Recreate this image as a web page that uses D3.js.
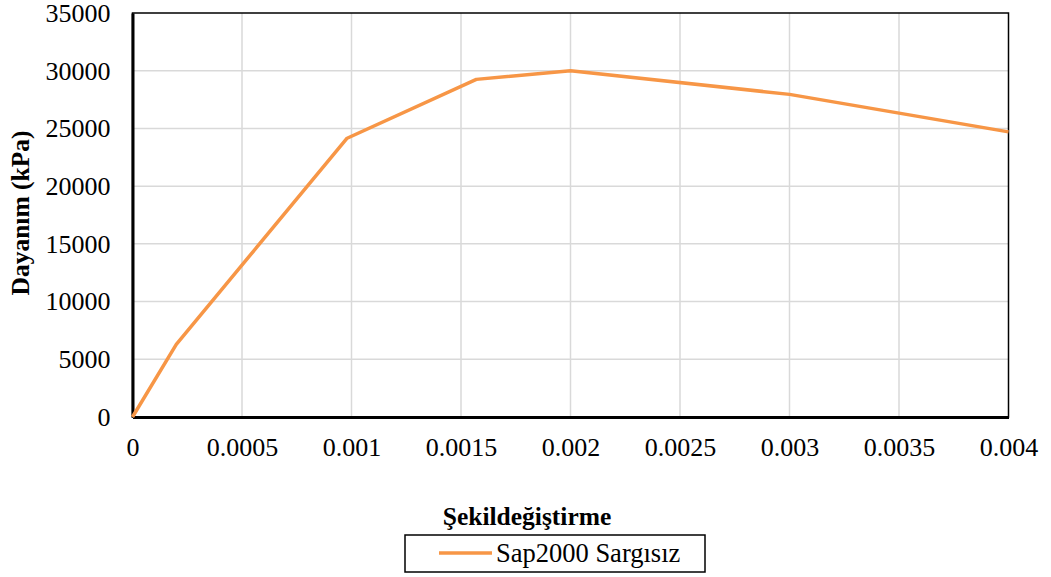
<!DOCTYPE html>
<html>
<head>
<meta charset="utf-8">
<script src="https://cdn.jsdelivr.net/npm/d3@7"></script>
<style>
  html, body { margin: 0; padding: 0; background: #fff; }
  svg { display: block; }
  svg text { font-family: "Liberation Serif", "Times New Roman", "DejaVu Serif", serif; }
</style>
</head>
<body>
<svg id="chart" width="1051" height="577"></svg>
<script>
// Stress–strain curve (Sap2000, unconfined)
const strain = [0, 0.0002, 0.00098, 0.00157, 0.002, 0.003, 0.004];
const stress = [0, 6300, 24150, 29250, 30000, 27950, 24700];
const xTicks = [0, 0.0005, 0.001, 0.0015, 0.002, 0.0025, 0.003, 0.0035, 0.004];
const yTicks = [0, 5000, 10000, 15000, 20000, 25000, 30000, 35000];
const seriesName = "Sap2000 Sargısız";
const xTitle = "Şekildeğiştirme";
const yTitle = "Dayanım (kPa)";

const svg = d3.select("#chart");
const margin = { left: 132.5, right: 1008.5, top: 13, bottom: 417 };

const x = d3.scaleLinear().domain([0, 0.004]).range([margin.left, margin.right]);
const y = d3.scaleLinear().domain([0, 35000]).range([margin.bottom, margin.top]);

// grid
const grid = svg.append("g").attr("stroke", "#d9d9d9").attr("stroke-width", 1.5);
grid.selectAll("line.v").data(xTicks.slice(1, -1)).join("line")
  .attr("x1", d => x(d)).attr("x2", d => x(d))
  .attr("y1", margin.top).attr("y2", margin.bottom);
grid.selectAll("line.h").data(yTicks.slice(1, -1)).join("line")
  .attr("x1", margin.left).attr("x2", margin.right)
  .attr("y1", d => y(d)).attr("y2", d => y(d));

// plot frame
svg.append("rect")
  .attr("x", margin.left).attr("y", margin.top)
  .attr("width", margin.right - margin.left).attr("height", margin.bottom - margin.top)
  .attr("fill", "none").attr("stroke", "#000").attr("stroke-width", 1.5);

// axes
const xAxis = d3.axisBottom(x).tickValues(xTicks).tickSize(0).tickPadding(21)
  .tickFormat(d => String(+d.toFixed(4)));
const gx = svg.append("g").attr("transform", `translate(0,${margin.bottom})`).call(xAxis)
  .attr("font-family", null);
gx.select(".domain").attr("stroke", "#000").attr("stroke-width", 3);
gx.selectAll("text").attr("font-size", 26).attr("fill", "#000");

const yAxis = d3.axisLeft(y).tickValues(yTicks).tickSize(0).tickPadding(22)
  .tickFormat(d => String(d));
const gy = svg.append("g").attr("transform", `translate(${margin.left},0)`).call(yAxis)
  .attr("font-family", null);
gy.select(".domain").attr("stroke", "#000").attr("stroke-width", 3);
gy.selectAll("text").attr("font-size", 26).attr("fill", "#000");

// series line
const data = strain.map((s, i) => ({ s, v: stress[i] }));
svg.append("path")
  .datum(data)
  .attr("fill", "none")
  .attr("stroke", "#F79646")
  .attr("stroke-width", 3.5)
  .attr("stroke-linejoin", "round")
  .attr("d", d3.line().x(d => x(d.s)).y(d => y(d.v)));

// axis titles
svg.append("text")
  .attr("x", 527).attr("y", 525)
  .attr("text-anchor", "middle")
  .attr("font-weight", "bold").attr("font-size", 25.5)
  .text(xTitle);

svg.append("text")
  .attr("transform", "translate(29,213) rotate(-90)")
  .attr("text-anchor", "middle")
  .attr("font-weight", "bold").attr("font-size", 25.5)
  .text(yTitle);

// legend
const lg = svg.append("g");
lg.append("rect")
  .attr("x", 405).attr("y", 535).attr("width", 300).attr("height", 37)
  .attr("fill", "#fff").attr("stroke", "#000").attr("stroke-width", 1.5);
lg.append("line")
  .attr("x1", 439).attr("x2", 492).attr("y1", 553).attr("y2", 553)
  .attr("stroke", "#F79646").attr("stroke-width", 3.5);
lg.append("text")
  .attr("x", 496).attr("y", 562)
  .attr("font-size", 26.5)
  .text(seriesName);
</script>
</body>
</html>
